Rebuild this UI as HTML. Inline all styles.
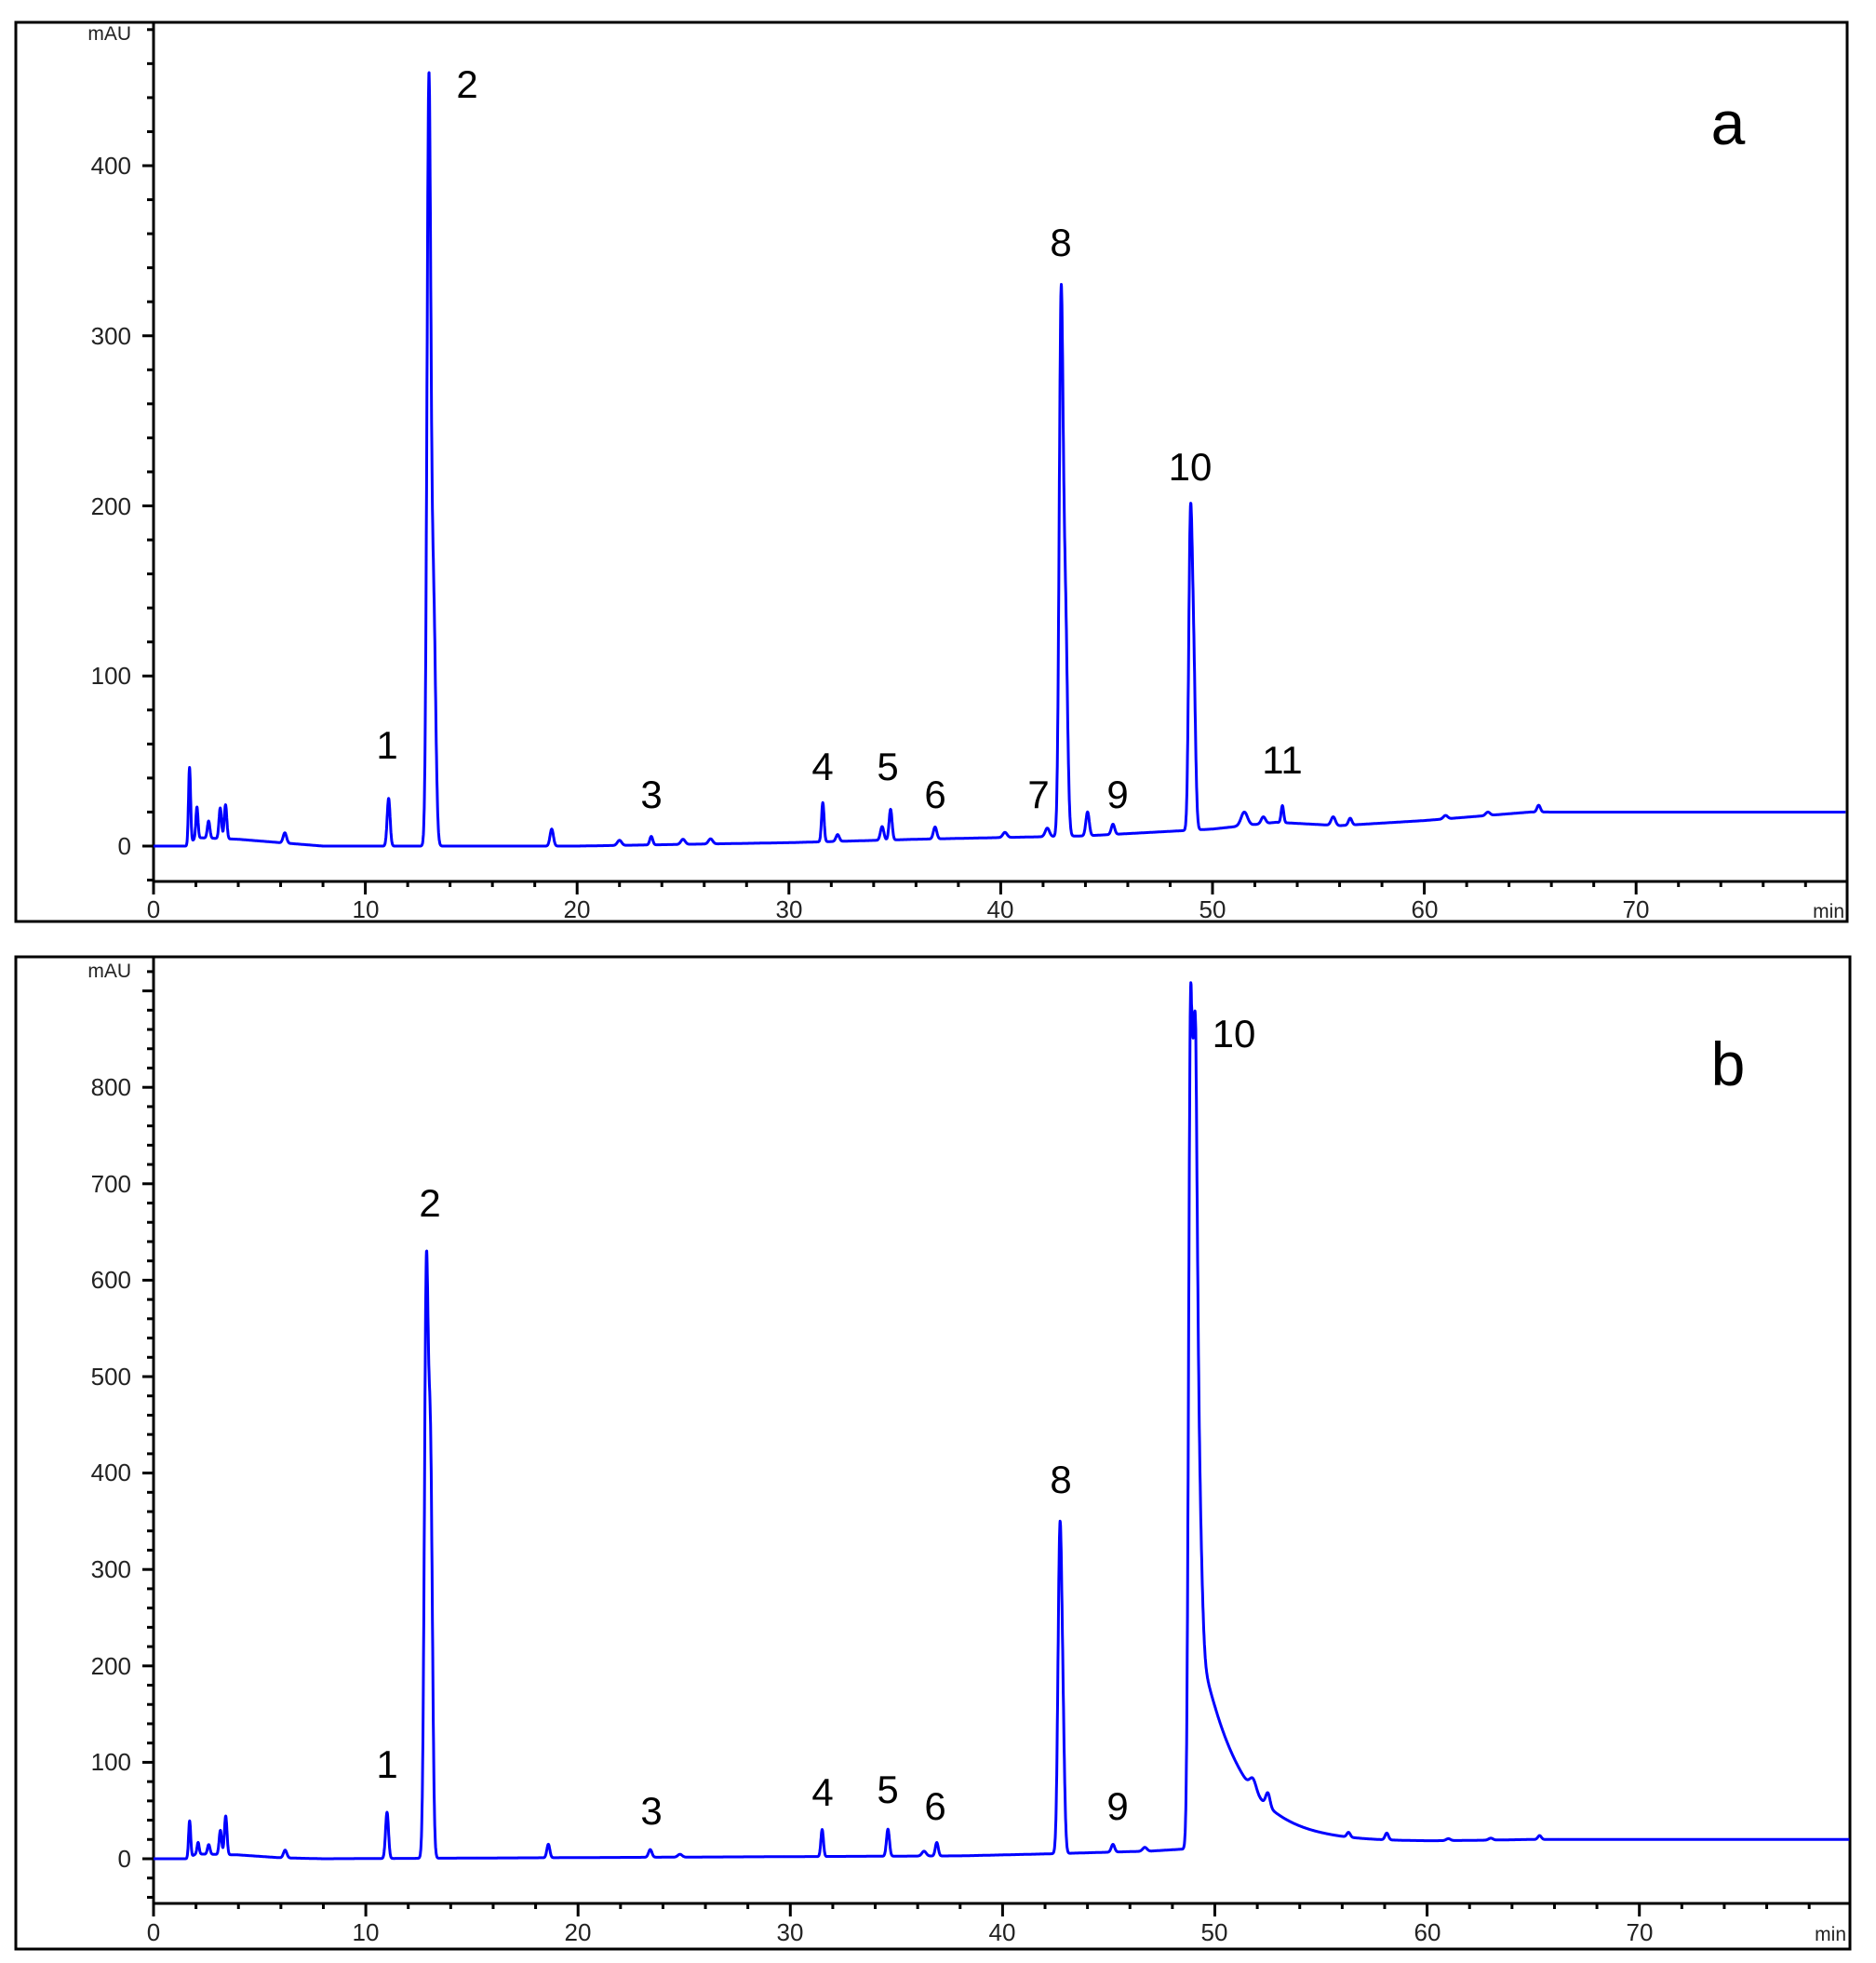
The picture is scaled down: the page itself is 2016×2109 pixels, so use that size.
<!DOCTYPE html>
<html><head><meta charset="utf-8"><style>
html,body{margin:0;padding:0;background:#fff;}
svg{display:block;}
.t{font-family:"Liberation Sans",sans-serif;font-size:26px;fill:#222;}
.l{font-family:"Liberation Sans",sans-serif;font-size:42px;fill:#000;text-anchor:middle;}
.big{font-family:"Liberation Sans",sans-serif;font-size:66px;fill:#000;text-anchor:middle;}
</style></head><body>
<svg id="s" width="2016" height="2109" viewBox="0 0 2016 2109" xmlns="http://www.w3.org/2000/svg">
<rect width="2016" height="2109" fill="#fff"/>
<rect x="17" y="24" width="1968" height="966" fill="none" stroke="#000" stroke-width="3"/>
<line x1="165" y1="24" x2="165" y2="947" stroke="#000" stroke-width="3"/>
<line x1="165" y1="947" x2="1985" y2="947" stroke="#000" stroke-width="3"/>
<g id="ta"></g>
<text class="t" x="141" y="187" text-anchor="end">400</text>
<text class="t" x="141" y="370" text-anchor="end">300</text>
<text class="t" x="141" y="553" text-anchor="end">200</text>
<text class="t" x="141" y="735" text-anchor="end">100</text>
<text class="t" x="141" y="918" text-anchor="end">0</text>
<text class="t" x="141" y="43" text-anchor="end" style="font-size:21px">mAU</text>
<g class="t" text-anchor="middle">
<text x="165" y="986">0</text><text x="393" y="986">10</text><text x="620" y="986">20</text><text x="848" y="986">30</text><text x="1075" y="986">40</text><text x="1303" y="986">50</text><text x="1531" y="986">60</text><text x="1758" y="986">70</text></g>
<text class="t" x="1982" y="986" text-anchor="end" style="font-size:21px">min</text>
<path id="pa" fill="none" stroke="#0000ff" stroke-width="3" stroke-linejoin="round"/>
<text class="l" x="502" y="105">2</text>
<text class="l" x="416" y="815">1</text>
<text class="l" x="700" y="868">3</text>
<text class="l" x="884" y="838">4</text>
<text class="l" x="954" y="838">5</text>
<text class="l" x="1005" y="868">6</text>
<text class="l" x="1116" y="868">7</text>
<text class="l" x="1140" y="275">8</text>
<text class="l" x="1201" y="868">9</text>
<text class="l" x="1279" y="516">10</text>
<text class="l" x="1378" y="831">11</text>
<text class="big" x="1857" y="155">a</text>
<rect x="17" y="1028" width="1971" height="1066" fill="none" stroke="#000" stroke-width="3"/>
<line x1="165" y1="1028" x2="165" y2="2045" stroke="#000" stroke-width="3"/>
<line x1="165" y1="2045" x2="1988" y2="2045" stroke="#000" stroke-width="3"/>
<g id="tb"></g>
<text class="t" x="141" y="1177" text-anchor="end">800</text>
<text class="t" x="141" y="1281" text-anchor="end">700</text>
<text class="t" x="141" y="1384" text-anchor="end">600</text>
<text class="t" x="141" y="1488" text-anchor="end">500</text>
<text class="t" x="141" y="1591" text-anchor="end">400</text>
<text class="t" x="141" y="1695" text-anchor="end">300</text>
<text class="t" x="141" y="1799" text-anchor="end">200</text>
<text class="t" x="141" y="1902" text-anchor="end">100</text>
<text class="t" x="141" y="2006" text-anchor="end">0</text>
<text class="t" x="141" y="1050" text-anchor="end" style="font-size:21px">mAU</text>
<g class="t" text-anchor="middle">
<text x="165" y="2085">0</text><text x="393" y="2085">10</text><text x="621" y="2085">20</text><text x="849" y="2085">30</text><text x="1077" y="2085">40</text><text x="1305" y="2085">50</text><text x="1534" y="2085">60</text><text x="1762" y="2085">70</text></g>
<text class="t" x="1984" y="2085" text-anchor="end" style="font-size:21px">min</text>
<path id="pb" fill="none" stroke="#0000ff" stroke-width="3" stroke-linejoin="round"/>
<text class="l" x="416" y="1910">1</text>
<text class="l" x="462" y="1307">2</text>
<text class="l" x="700" y="1960">3</text>
<text class="l" x="884" y="1940">4</text>
<text class="l" x="954" y="1937">5</text>
<text class="l" x="1005" y="1955">6</text>
<text class="l" x="1140" y="1604">8</text>
<text class="l" x="1201" y="1955">9</text>
<text class="l" x="1326" y="1125">10</text>
<text class="big" x="1857" y="1166">b</text>
</svg>
<script>
function g(t,c,h,s){var d=(t-c)/s;return h*Math.exp(-0.5*d*d);}
function interp(t,pts){if(t<=pts[0][0])return pts[0][1];for(var i=1;i<pts.length;i++){if(t<=pts[i][0]){var a=pts[i-1],b=pts[i];return a[1]+(b[1]-a[1])*(t-a[0])/(b[0]-a[0]);}}return pts[pts.length-1][1];}
var baseA=[[0,0],[1.6,0],[2,5],[4,4],[6,2],[8,0],[20,0],[30,2],[36,4],[40,5],[44,6],[47,8],[50,10],[53,14],[56,12],[60,15],[63,18],[65,20],[80,20]];
var pkA=[[1.7,45,.05],[2.05,18,.05],[2.6,10,.06],[3.15,18,.06],[3.4,20,.06],[6.2,6,.08],[11.1,28,.07],[13.0,442,.09],[13.22,140,.1],[18.8,10,.08],[22,3,.1],[23.5,5,.07],[25,3,.1],[26.3,3,.1],[31.6,23,.06],[32.3,4,.08],[34.4,8,.08],[34.8,18,.07],[36.9,7,.08],[40.2,3,.1],[42.2,5,.1],[42.85,305,.09],[43.05,130,.1],[44.1,14,.08],[45.3,6,.08],[48.95,162,.08],[49.1,100,.09],[51.5,8,.15],[52.4,4,.1],[53.3,10,.06],[55.7,5,.1],[56.5,4,.08],[61,2,.1],[63,2,.1],[65.4,4,.08]];
var baseB=[[0,0],[1.6,0],[2,5],[4,4],[6,1],[8,0],[38,3],[42,5],[47,8],[48.5,10],[50,15],[55,17],[60,18],[65,20],[80,20]];
var pkB=[[1.7,38,.05],[2.1,12,.05],[2.6,10,.06],[3.15,25,.06],[3.4,40,.06],[6.2,8,.08],[11.0,48,.07],[12.85,590,.09],[13.05,400,.09],[18.6,14,.07],[23.4,8,.08],[24.8,3,.1],[31.5,28,.06],[34.6,28,.07],[36.3,5,.1],[36.9,14,.07],[42.7,325,.09],[42.85,100,.08],[45.2,8,.08],[46.7,4,.1],[48.85,800,.09],[49.05,500,.1],[49.2,200,.15],[51.8,12,.15],[52.5,14,.1],[56.3,5,.08],[58.1,7,.08],[61,2,.1],[63,2,.1],[65.3,4,.08]];
function build(base,pks,x0,sx,y0,sy,tail,tmax){var d="";for(var t=0;t<=tmax;t+=0.01){var v=interp(t,base);for(var i=0;i<pks.length;i++){var p=pks[i];if(Math.abs(t-p[0])<p[2]*6)v+=g(t,p[0],p[1],p[2]);}
if(tail&&t>48.9){v+=230*Math.exp(-(t-49.1)/1.9)*Math.min(1,(t-48.9)/0.2);}
var x=x0+t*sx,y=y0-v*sy;d+=(d?"L":"M")+x.toFixed(1)+" "+y.toFixed(1);}return d;}
document.getElementById("pa").setAttribute("d",build(baseA,pkA,165,22.76,909,1.8275,false,79.9));
document.getElementById("pb").setAttribute("d",build(baseB,pkB,165,22.81,1997,1.036,true,79.9));
function ticks(id,x0,sx,xa,xmax,y0,sy,vmin,vmax,ytop){var h="";for(var v=vmin;v<=vmax;v+=20){var y=y0-v*sy;if(y<ytop)continue;var L=(v%100==0)?12:7;h+='<line x1="'+(165-L)+'" y1="'+y+'" x2="165" y2="'+y+'" stroke="#000" stroke-width="3"/>';}
for(var t=0;t<=80;t+=2){var x=x0+t*sx;if(x>xmax)break;var L=(t%10==0)?14:6;h+='<line x1="'+x+'" y1="'+xa+'" x2="'+x+'" y2="'+(xa+L)+'" stroke="#000" stroke-width="3"/>';}
document.getElementById(id).innerHTML=h;}
ticks("ta",165,22.76,947,1975,909,1.8275,-20,480,28);
ticks("tb",165,22.81,2045,1978,1997,1.036,-40,940,1036);
</script>
</body></html>
